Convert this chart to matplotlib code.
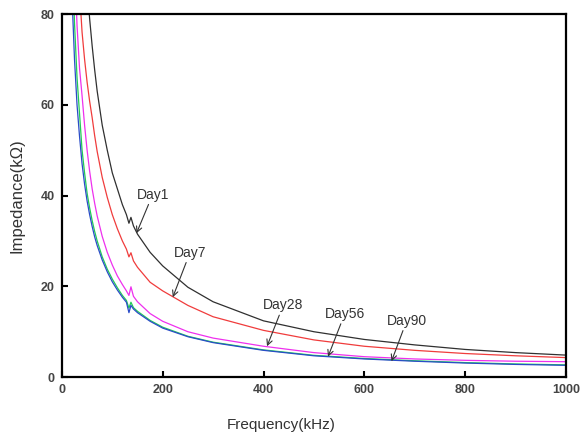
import matplotlib
matplotlib.use("Agg")
import matplotlib.pyplot as plt

plt.rcParams['font.family'] = ['Liberation Sans', 'DejaVu Sans']

# frequency points (kHz) and impedance (kOhm)
freq = [15, 20, 25, 30, 35, 40, 45, 50, 55, 60, 65, 70, 80, 90, 100, 110, 120, 128, 133, 137, 142,
        150, 175, 200, 250, 300, 400, 500, 600, 700, 800, 900, 1000]

day1 = [290, 215, 172, 143, 123, 107.5, 95.5, 86, 79, 73, 67.7, 63, 55.5, 50, 45, 41.5, 38, 35.8, 33.9, 35.2, 33.3,
        31.5, 27.5, 24.5, 19.8, 16.6, 12.4, 10.0, 8.3, 7.1, 6.1, 5.4, 4.85]
day7 = [200, 150, 118, 100, 85, 76, 70, 65, 60.8, 57.2, 53.2, 49.7, 44, 39.6, 35.8, 32.7, 30.0, 28.2, 26.5, 27.4, 25.6,
        24.2, 20.9, 19.0, 15.8, 13.3, 10.3, 8.2, 6.8, 5.9, 5.2, 4.7, 4.3]
day28 = [155, 116, 93, 77.5, 68, 62, 55.5, 50, 45.4, 41.5, 38.3, 35.5, 31, 27.5, 24.7, 22.3, 20.4, 19.0, 18.0, 19.9, 17.8,
         16.6, 14.0, 12.3, 10.0, 8.6, 6.8, 5.4, 4.5, 4.0, 3.7, 3.5, 3.4]
day56 = [128, 96, 78, 66, 58, 50, 45, 40.5, 37.3, 34.5, 32.1, 30, 26.5, 23.8, 21.6, 19.7, 18.0, 16.9, 15.2, 16.5, 15.3,
         14.5, 12.5, 11.0, 9.0, 7.7, 6.0, 4.8, 4.1, 3.6, 3.2, 2.9, 2.7]
day90 = [110, 84, 70, 60, 53, 47, 42.5, 38.8, 35.8, 33.2, 30.9, 29.0, 25.8, 23.2, 21.0, 19.2, 17.6, 16.5, 14.2, 15.8, 15.0,
         14.2, 12.3, 10.8, 8.9, 7.6, 5.9, 4.7, 4.0, 3.5, 3.1, 2.8, 2.6]

labels = ["Day1", "Day7", "Day28", "Day56", "Day90"]
colors = ["#303030", "#f03c3c", "#ee30ee", "#22cc55", "#2a4cc8"]
# arrow tip (freq, Z) and text position
tips = [(148, 31.7), (220, 17.6), (407, 6.8), (528, 4.5), (654, 3.5)]
text_pos = [(180, 40.2), (254, 27.4), (439, 15.8), (561, 13.9), (684, 12.4)]

fig = plt.figure(figsize=(5.84, 4.38), dpi=100)
ax = fig.add_axes([0.106, 0.139, 0.863, 0.829])

for y, c in zip([day1, day7, day28, day56, day90], colors):
    ax.plot(freq, y, color=c, lw=0.9)

for lab, tip, tp in zip(labels, tips, text_pos):
    ax.annotate(lab, xy=tip, xytext=tp, ha='center', va='center', fontsize=10, color='#333333',
                arrowprops=dict(arrowstyle='->', color='#333333', lw=0.8, shrinkA=0, shrinkB=0))

ax.set_xlim(0, 1000)
ax.set_ylim(0, 80)
ax.set_xticks([0, 200, 400, 600, 800, 1000])
ax.set_yticks([0, 20, 40, 60, 80])
ax.tick_params(direction='in', length=4, width=1.5, labelsize=9, labelcolor='#444444', pad=5)
for t in ax.get_xticklabels() + ax.get_yticklabels():
    t.set_fontweight('bold')
for s in ax.spines.values():
    s.set_linewidth(1.6)
ax.set_xlabel("Frequency(kHz)", fontsize=11, color='#333333')
ax.xaxis.set_label_coords(0.435, -0.112)
ax.set_ylabel("Impedance(kΩ)", fontsize=12, color='#333333')
ax.yaxis.set_label_coords(-0.075, 0.5)

fig.savefig("out.png", dpi=100)
